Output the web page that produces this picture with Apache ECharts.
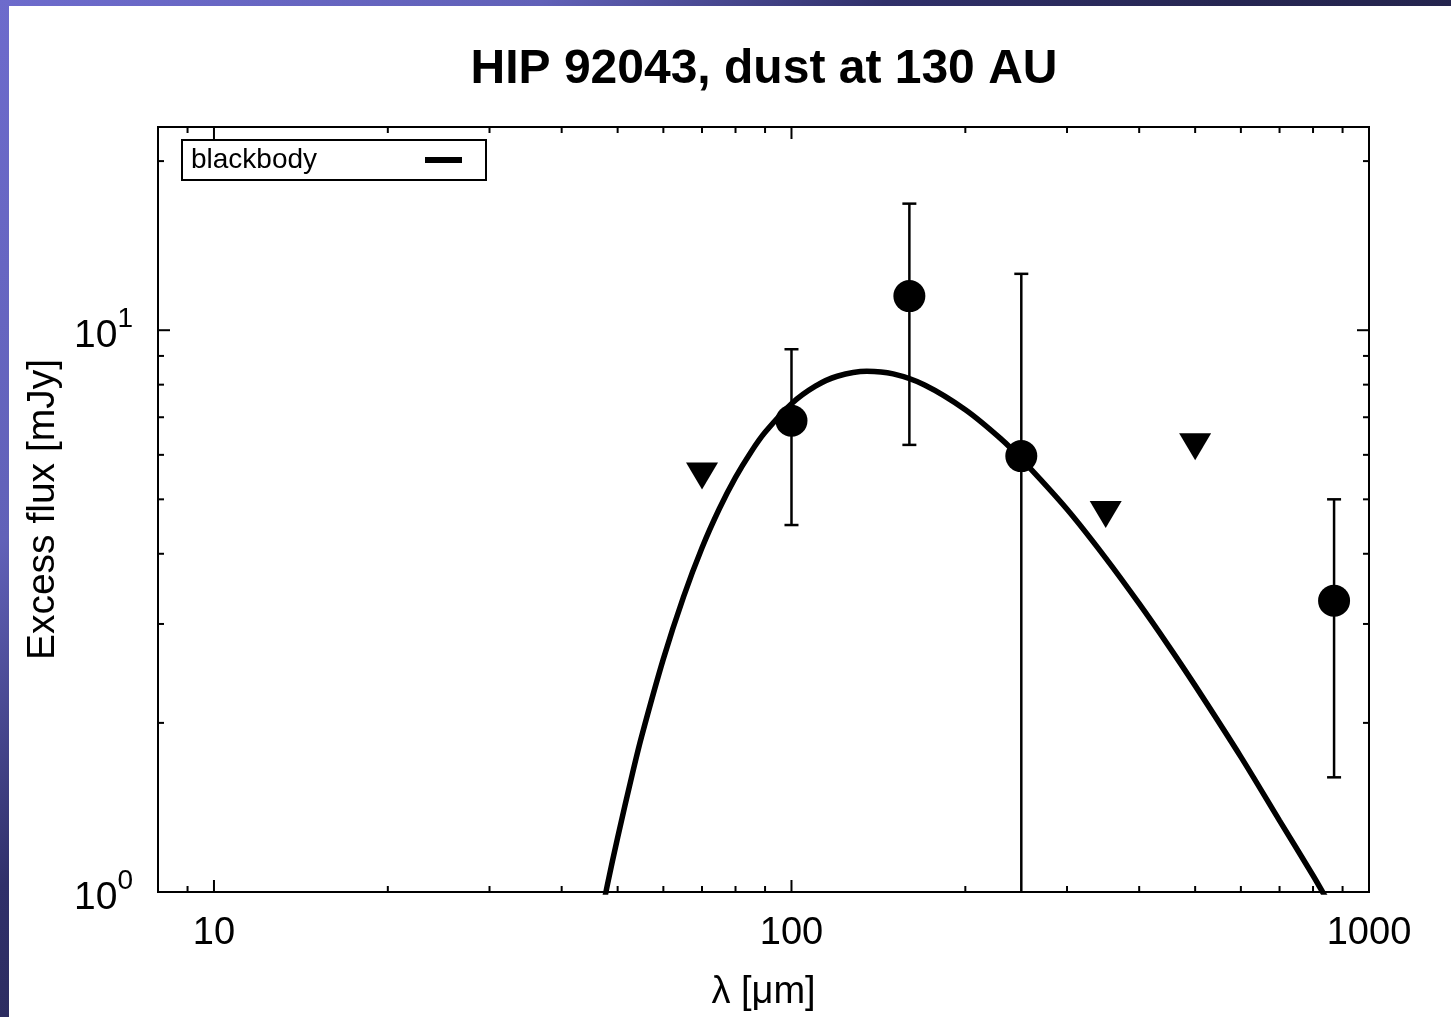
<!DOCTYPE html>
<html>
<head>
<meta charset="utf-8">
<script src="https://cdn.jsdelivr.net/npm/echarts@6/dist/echarts.min.js"></script>
<style>
  html, body { margin: 0; padding: 0; width: 1451px; height: 1017px; overflow: hidden;
    background: linear-gradient(135deg, #6d6bcc 0%, #6161b8 22%, #30306a 36%, #262652 50%, #1d1d3e 100%); }
  #sheet { position: absolute; left: 9px; top: 6px; right: 0; bottom: 0; background: #fff; }
  #chart { position: absolute; left: 0; top: 0; width: 1451px; height: 1017px; }
</style>
</head>
<body>
<div id="sheet"></div>
<div id="chart"></div>
<script>
// Photometric excess measurements (wavelength in micron, flux in mJy)
const detLambda = [100, 160, 250, 870];
const detFlux   = [6.9, 11.5, 5.97, 3.3];
const detLow    = [4.5, 6.25, 0, 1.6];     // 0: error bar reaches below the plotted range
const detHigh   = [9.25, 16.8, 12.6, 5.0];

// Upper limits
const limLambda = [70, 350, 500];
const limFlux   = [5.5, 4.7, 6.2];

// Blackbody model curve
const bbLambda = [47, 48, 50, 53, 55, 60, 65, 70, 75, 80, 85, 90, 100, 110, 120, 135, 150,
                  170, 200, 230, 250, 300, 350, 400, 450, 500, 600, 700, 800, 850];
const bbFlux   = [0.92, 1.03, 1.25, 1.62, 1.89, 2.60, 3.35, 4.10, 4.81, 5.47, 6.06, 6.58, 7.40,
                  7.95, 8.28, 8.45, 8.36, 7.99, 7.22, 6.42, 5.90, 4.80, 3.93, 3.26, 2.74, 2.33,
                  1.74, 1.34, 1.07, 0.96];

// Axis ranges and tick positions
const xRange = [8, 1000];
const yRange = [1, 23];
const xMajorTicks = [10, 100, 1000];
const xMinorTicks = [8, 9, 20, 30, 40, 50, 60, 70, 80, 90, 200, 300, 400, 500, 600, 700, 800, 900];
const yMajorTicks = [1, 10];
const yMinorTicks = [2, 3, 4, 5, 6, 7, 8, 9, 20];

const FONT = '"Liberation Sans", Arial, Helvetica, sans-serif';
const MAJOR_LEN = 12, MINOR_LEN = 6;

function isPow10(v) {
  const e = Math.log10(v);
  return Math.abs(e - Math.round(e)) < 1e-6;
}

const xTickData = xMajorTicks.map(v => [v, yRange[0], MAJOR_LEN])
  .concat(xMinorTicks.map(v => [v, yRange[0], MINOR_LEN]));
const yTickData = yMajorTicks.map(v => [xRange[0], v, MAJOR_LEN])
  .concat(yMinorTicks.map(v => [xRange[0], v, MINOR_LEN]));
const errData = detLambda.map((l, i) => [l, detLow[i], detHigh[i]]);

const tickStyle = { stroke: '#000', lineWidth: 2 };
const barStyle = { stroke: '#000', lineWidth: 2.5 };

const chart = echarts.init(document.getElementById('chart'), null, { renderer: 'canvas' });
chart.setOption({
  animation: false,
  textStyle: { fontFamily: FONT },
  title: {
    text: 'HIP 92043, dust at 130 AU',
    left: 759,
    textAlign: 'center',
    top: 41,
    textStyle: { fontFamily: FONT, fontSize: 48, fontWeight: 'bold', color: '#000' }
  },
  legend: {
    data: [{ name: 'blackbody', icon: 'rect' }],
    left: 182,
    top: 140,
    align: 'right',
    itemWidth: 37,
    itemHeight: 6,
    padding: [6, 24, 6, 9],
    borderColor: '#000',
    borderWidth: 2,
    formatter: name => '{t|' + name + '}',
    textStyle: {
      fontFamily: FONT, fontSize: 28, color: '#000',
      rich: { t: { width: 229, align: 'left', fontSize: 28, fontFamily: FONT, color: '#000' } }
    }
  },
  grid: {
    left: 158, top: 127, right: 82, bottom: 124,
    show: true, borderColor: '#000', borderWidth: 2, backgroundColor: 'transparent'
  },
  xAxis: {
    type: 'log', logBase: 10, min: xRange[0], max: xRange[1],
    name: 'λ [μm]', nameLocation: 'middle', nameGap: 82,
    nameTextStyle: { fontFamily: FONT, fontSize: 38, color: '#000' },
    axisLine: { show: false }, axisTick: { show: false }, splitLine: { show: false },
    axisLabel: {
      interval: 0, margin: 23, fontSize: 38, color: '#000', fontFamily: FONT,
      formatter: v => isPow10(v) ? String(Math.round(v)) : ''
    }
  },
  yAxis: {
    type: 'log', logBase: 10, min: yRange[0], max: yRange[1],
    name: 'Excess flux [mJy]', nameLocation: 'middle', nameGap: 93,
    nameTextStyle: { fontFamily: FONT, fontSize: 39, color: '#000' },
    axisLine: { show: false }, axisTick: { show: false }, splitLine: { show: false },
    axisLabel: {
      interval: 0, margin: 25, color: '#000', fontFamily: FONT,
      padding: [12, 0, 0, 0],
      formatter: v => isPow10(v) ? '{b|10}{s|' + Math.round(Math.log10(v)) + '}' : '',
      rich: {
        b: { fontSize: 39, lineHeight: 62, fontFamily: FONT, color: '#000' },
        s: { fontSize: 28, lineHeight: 30, verticalAlign: 'top', fontFamily: FONT, color: '#000' }
      }
    }
  },
  series: [
    {
      name: 'blackbody',
      type: 'line',
      data: bbLambda.map((l, i) => [l, bbFlux[i]]),
      showSymbol: false,
      smooth: 0.3,
      clip: true,
      color: '#000',
      lineStyle: { color: '#000', width: 5.5 },
      z: 3
    },
    {
      name: 'errors',
      type: 'custom',
      clip: true,
      data: errData,
      renderItem: (params, api) => {
        const cs = params.coordSys;
        const x = api.value(0), lo = api.value(1), hi = api.value(2);
        const top = api.coord([x, hi]);
        const px = top[0];
        const bottom = lo > 0 ? api.coord([x, lo])[1] : cs.y + cs.height;
        const cap = 7;
        const children = [
          { type: 'line', shape: { x1: px, y1: top[1], x2: px, y2: bottom }, style: barStyle },
          { type: 'line', shape: { x1: px - cap, y1: top[1], x2: px + cap, y2: top[1] }, style: barStyle }
        ];
        if (lo > 0) {
          children.push({ type: 'line', shape: { x1: px - cap, y1: bottom, x2: px + cap, y2: bottom }, style: barStyle });
        }
        return { type: 'group', children };
      },
      z: 4
    },
    {
      name: 'detections',
      type: 'scatter',
      data: detLambda.map((l, i) => [l, detFlux[i]]),
      symbol: 'circle',
      symbolSize: 32,
      itemStyle: { color: '#000', opacity: 1 },
      z: 5
    },
    {
      name: 'upper limits',
      type: 'scatter',
      data: limLambda.map((l, i) => [l, limFlux[i]]),
      symbol: 'triangle',
      symbolRotate: 180,
      symbolSize: [32, 27],
      itemStyle: { color: '#000', opacity: 1 },
      z: 5
    },
    {
      name: 'xticks',
      type: 'custom',
      silent: true,
      data: xTickData,
      renderItem: (params, api) => {
        const cs = params.coordSys;
        const px = api.coord([api.value(0), api.value(1)])[0];
        const len = api.value(2);
        const b = cs.y + cs.height, t = cs.y;
        return { type: 'group', children: [
          { type: 'line', shape: { x1: px, y1: b, x2: px, y2: b - len }, style: tickStyle },
          { type: 'line', shape: { x1: px, y1: t, x2: px, y2: t + len }, style: tickStyle }
        ] };
      },
      z: 2
    },
    {
      name: 'yticks',
      type: 'custom',
      silent: true,
      data: yTickData,
      renderItem: (params, api) => {
        const cs = params.coordSys;
        const py = api.coord([api.value(0), api.value(1)])[1];
        const len = api.value(2);
        const l = cs.x, r = cs.x + cs.width;
        return { type: 'group', children: [
          { type: 'line', shape: { x1: l, y1: py, x2: l + len, y2: py }, style: tickStyle },
          { type: 'line', shape: { x1: r, y1: py, x2: r - len, y2: py }, style: tickStyle }
        ] };
      },
      z: 2
    }
  ]
});
</script>
</body>
</html>
